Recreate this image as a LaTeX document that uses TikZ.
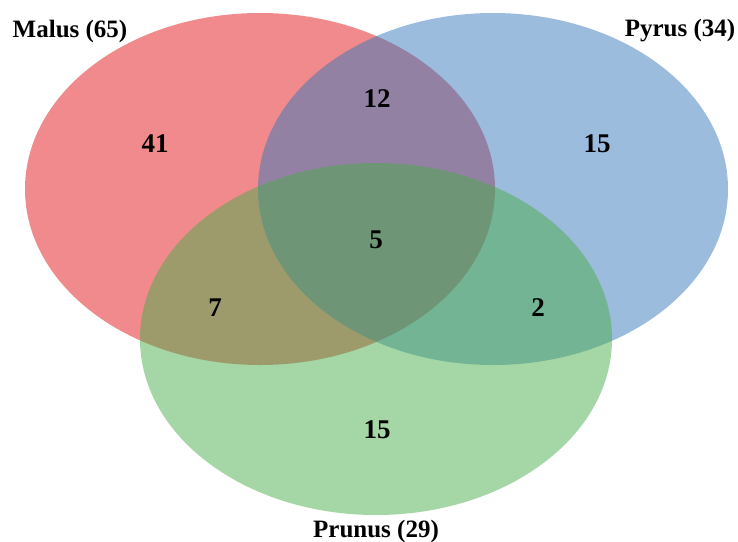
\documentclass[tikz,border=0pt]{standalone}
\usepackage{fontspec}
\setmainfont{Liberation Serif}
\definecolor{setred}{RGB}{225,21,25}
\definecolor{setblue}{RGB}{55,121,187}
\definecolor{setgreen}{RGB}{75,173,75}
\begin{document}
\begin{tikzpicture}[x=1pt,y=-1pt,
  setfill/.style={fill=#1,fill opacity=0.5,draw=none},
  num/.style={font=\fontsize{27}{29}\selectfont\bfseries,inner sep=0pt},
  lbl/.style={font=\fontsize{25}{27}\selectfont\bfseries,inner sep=0pt}]
\useasboundingbox (0,0) rectangle (738,541);
\fill[setfill=setred] (260,189) ellipse [x radius=235, y radius=176];
\fill[setfill=setblue] (493,189) ellipse [x radius=235, y radius=176];
\fill[setfill=setgreen] (376,339) ellipse [x radius=236, y radius=176];
\node[lbl] (malus) at (70,31) {Malus (65)};
\node[lbl] (pyrus) at (680,31) {Pyrus (34)};
\node[lbl] (prunus) at (376,531) {Prunus (29)};
\node[num] (a) at (155,144) {41};
\node[num] (ab) at (377,99) {12};
\node[num] (b) at (597,144) {15};
\node[num] (abc) at (376,240) {5};
\node[num] (ac) at (215,308) {7};
\node[num] (bc) at (538,308) {2};
\node[num] (c) at (377,430) {15};
\end{tikzpicture}
\end{document}
